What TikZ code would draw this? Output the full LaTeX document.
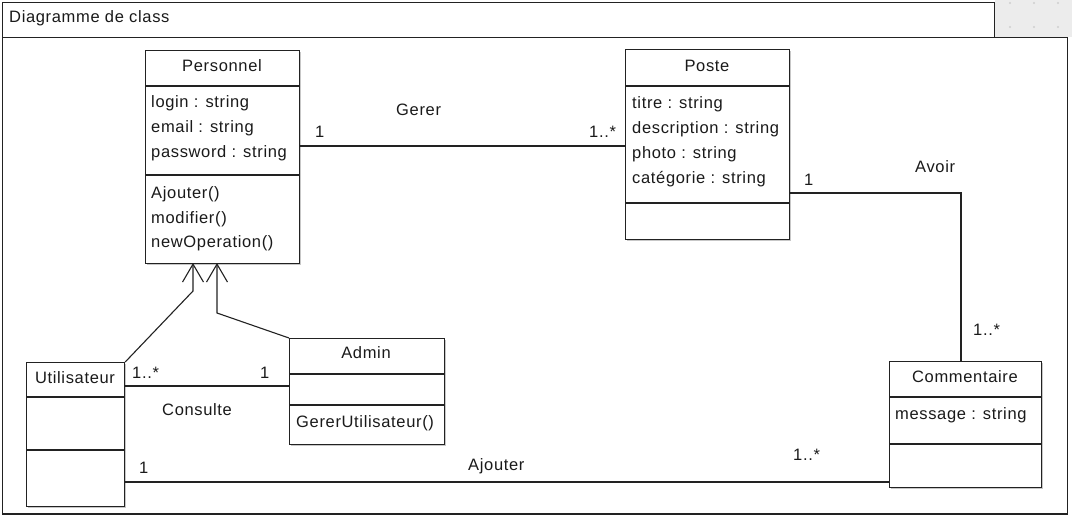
\documentclass[tikz,border=0pt]{standalone}
\usepackage{fontspec}
\setmainfont{Liberation Sans}[LetterSpace=4.0]
\usetikzlibrary{arrows.meta,shadows}
\definecolor{ln}{HTML}{222222}
\definecolor{tx}{HTML}{1A1A1A}
\definecolor{bgg}{HTML}{ECECEC}
\definecolor{dotc}{HTML}{CFCFCF}
\begin{document}
\begin{tikzpicture}[x=1pt,y=-1pt,
  every node/.style={font=\fontsize{16.5pt}{20pt}\selectfont, text=tx, inner sep=0pt},
  cls/.style={draw=ln, line width=1.2pt, fill=white, anchor=north west,
    drop shadow={shadow xshift=1.5pt, shadow yshift=-1.5pt, fill=black!22, opacity=1}},
  part/.style={draw=ln, line width=1.2pt},
  assoc/.style={draw=ln, line width=1.1pt},
  gen/.style={draw=ln, line width=1.1pt, -{Straight Barb[length=18pt,width=21pt]}},
  lbl/.style={anchor=base west},
  ttl/.style={anchor=base}]
\useasboundingbox (0,0) rectangle (1072,517);
\fill[white] (0,0) rectangle (1072,517);
% background grid area
\fill[bgg] (995,0) rectangle (1072,37);
\foreach \i in {1010,1034,1058}{\foreach \j in {3,27}{\fill[dotc] (\i,\j) circle (1.1pt);}}
% frame
\draw[ln, line width=1.3pt] (2.5,37.5) rectangle (1067.5,514);
\draw[ln, line width=1.3pt, fill=white] (2.5,2.5) rectangle (994.5,37.5);
\node[lbl] (ftitle) at (9,22) {Diagramme de class};

% classes
\node[cls, minimum width=154pt, minimum height=213pt] (pers) at (145,50) {};
\node[cls, minimum width=164pt, minimum height=190pt] (poste) at (625,49) {};
\node[cls, minimum width=98pt, minimum height=144pt] (util) at (26,362) {};
\node[cls, minimum width=155pt, minimum height=106pt] (admin) at (289,338) {};
\node[cls, minimum width=152pt, minimum height=126pt] (comm) at (889,361) {};

\foreach \n/\a/\b in {pers/86/175, poste/86/203, util/397/450, admin/374/405, comm/397/444}{
  \draw[part] (\n.west |- 0,\a) -- (\n.east |- 0,\a);
  \draw[part] (\n.west |- 0,\b) -- (\n.east |- 0,\b);
}

% Personnel
\node[ttl] (persT) at (222,71) {Personnel};
\node[lbl] (pa1) at (151,107) {login : string};
\node[lbl] (pa2) at (151,132) {email : string};
\node[lbl] (pa3) at (151,157) {password : string};
\node[lbl] (po1) at (151,198) {Ajouter()};
\node[lbl] (po2) at (151,223) {modifier()};
\node[lbl] (po3) at (151,247) {newOperation()};
% Poste
\node[ttl] (posteT) at (707,71) {Poste};
\node[lbl] (sa1) at (632,108) {titre : string};
\node[lbl] (sa2) at (632,133) {description : string};
\node[lbl] (sa3) at (632,158) {photo : string};
\node[lbl] (sa4) at (632,183) {catégorie : string};
% Utilisateur
\node[ttl] (utilT) at (75,383) {Utilisateur};
% Admin
\node[ttl] (adminT) at (366,358) {Admin};
\node[lbl] (ao1) at (296,427) {GererUtilisateur()};
% Commentaire
\node[ttl] (commT) at (965,382) {Commentaire};
\node[lbl] (ca1) at (895,419) {message : string};

% coordinates
\coordinate (gerY) at (0,146);
\coordinate (avY) at (0,193);
\coordinate (avX) at (961,0);
\coordinate (conY) at (0,386);
\coordinate (ajY) at (0,482);
\coordinate (g1) at (193,263);
\coordinate (g1b) at (193,291);
\coordinate (g2) at (217,263);
\coordinate (g2b) at (217,313);

% associations
\draw[assoc] (pers.east |- gerY) -- (poste.west |- gerY);
\draw[assoc] (poste.east |- avY) -- (avX |- avY) -- (avX |- comm.north);
\draw[assoc] (util.east |- conY) -- (admin.west |- conY);
\draw[assoc] (util.east |- ajY) -- (comm.west |- ajY);

% generalizations
\draw[gen] (util.north east) -- (g1b) -- (g1);
\draw[gen] (admin.north west) -- (g2b) -- (g2);

% labels
\node[lbl] (lGer) at (396,115) {Gerer};
\node[lbl] (lGer1) at (315,137) {1};
\node[lbl] (lGer2) at (589,137) {1..*};
\node[lbl] (lAv) at (915,172) {Avoir};
\node[lbl] (lAv1) at (804,185) {1};
\node[lbl] (lAv2) at (973,335) {1..*};
\node[lbl] (lCon) at (162,415) {Consulte};
\node[lbl] (lCon1) at (132,378) {1..*};
\node[lbl] (lCon2) at (260,378) {1};
\node[lbl] (lAj) at (468,470) {Ajouter};
\node[lbl] (lAj1) at (139,473) {1};
\node[lbl] (lAj2) at (793,460) {1..*};
\end{tikzpicture}
\end{document}
